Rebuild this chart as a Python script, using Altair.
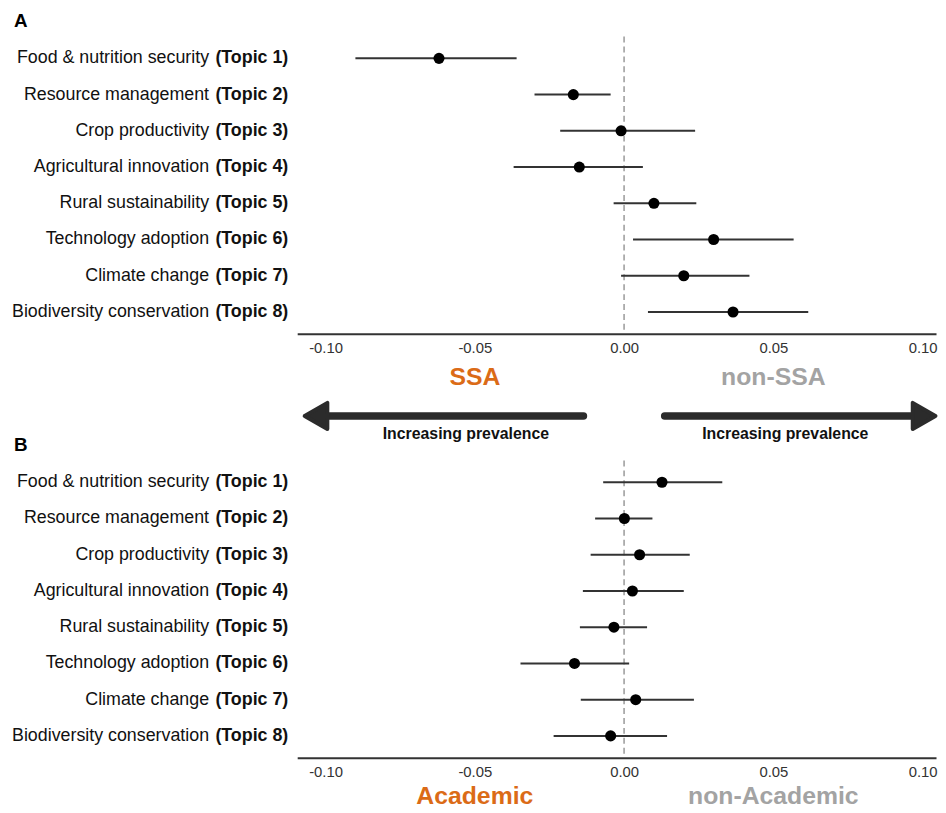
import altair as alt
import pandas as pd

# ---------------- data ----------------
topics = [
    "Food & nutrition security",
    "Resource management",
    "Crop productivity",
    "Agricultural innovation",
    "Rural sustainability",
    "Technology adoption",
    "Climate change",
    "Biodiversity conservation",
]
topic_tags = [f"(Topic {i})" for i in range(1, 9)]

# Panel A: SSA vs non-SSA
a_est = [-0.062, -0.017, -0.001, -0.015, 0.010, 0.030, 0.020, 0.0365]
a_lo = [-0.090, -0.030, -0.0214, -0.037, -0.0035, 0.003, -0.001, 0.008]
a_hi = [-0.036, -0.0045, 0.0238, 0.0063, 0.0242, 0.0568, 0.042, 0.0617]

# Panel B: Academic vs non-Academic
b_est = [0.0127, 0.0001, 0.0052, 0.0028, -0.0034, -0.0166, 0.0039, -0.0045]
b_lo = [-0.0070, -0.0097, -0.0112, -0.0138, -0.0148, -0.0347, -0.0145, -0.0236]
b_hi = [0.0329, 0.0095, 0.0220, 0.0200, 0.0077, 0.0017, 0.0234, 0.0144]

x_ticks = [-0.10, -0.05, 0.00, 0.05, 0.10]

FONT = "Liberation Sans"
ORANGE = "#DB6B17"
GREY = "#A3A3A3"
DARK = "#2b2b2b"
X_DOMAIN = [-0.1095, 0.1045]
W, H = 645, 300

one = pd.DataFrame({"_": [0]})


def text_note(label, x, y, color, size, **kw):
    return alt.Chart(one).mark_text(
        text=label, font=FONT, fontSize=size, fontWeight="bold", color=color,
        baseline="middle", **kw
    ).encode(x=x, y=y)


def panel(est, lo, hi, tag, left_lab, right_lab, lab_y, arrows):
    df = pd.DataFrame({"topic": topics, "tag": topic_tags,
                       "est": est, "lo": lo, "hi": hi})
    base = alt.Chart(df)
    yenc = alt.Y("topic:N", sort=topics,
                 scale=alt.Scale(type="point", padding=0.6), axis=None)

    ci = base.mark_rule(color="#333333", strokeWidth=2).encode(
        x=alt.X("lo:Q", scale=alt.Scale(domain=X_DOMAIN, nice=False, zero=False),
                axis=alt.Axis(
                    values=x_ticks, title=None, grid=False, ticks=False,
                    domainColor="#333333", domainWidth=2,
                    labelFont=FONT, labelFontSize=15, labelColor="#333333",
                    labelPadding=7, labelFlush=False,
                    labelExpr="datum.value < 0 ? '-' + format(-datum.value, '.2f') : format(datum.value, '.2f')",
                )),
        x2="hi:Q",
        y=yenc,
    )
    zero = alt.Chart(one).mark_rule(
        color="#999999", strokeDash=[6, 4], strokeWidth=1.5
    ).encode(x=alt.datum(0))
    dots = base.mark_circle(size=125, color="black", opacity=1).encode(
        x="est:Q", y=yenc)

    lab_reg = base.mark_text(align="right", baseline="middle", font=FONT,
                             fontSize=18, color="#111111").encode(
        x=alt.value(-89), y=yenc, text="topic:N")
    lab_bold = base.mark_text(align="right", baseline="middle", font=FONT,
                              fontSize=18, fontWeight="bold", color="#111111").encode(
        x=alt.value(-9), y=yenc, text="tag:N")

    tag_txt = text_note(tag, alt.value(-286), alt.value(-16), "#000000", 19, align="left")
    left_txt = text_note(left_lab, alt.datum(-0.05), alt.value(lab_y), ORANGE, 25, align="center")
    right_txt = text_note(right_lab, alt.datum(0.05), alt.value(lab_y), GREY, 25, align="center")

    layers = [zero, ci, dots, lab_reg, lab_bold, tag_txt, left_txt, right_txt]

    if arrows:
        ay = 383
        shaft_l = alt.Chart(one).mark_rule(color=DARK, strokeWidth=7.5, strokeCap="round").encode(
            x=alt.datum(-0.1020), x2=alt.datum(-0.0136), y=alt.value(ay))
        shaft_r = alt.Chart(one).mark_rule(color=DARK, strokeWidth=7.5, strokeCap="round").encode(
            x=alt.datum(0.0136), x2=alt.datum(0.0995), y=alt.value(ay))
        head_l = alt.Chart(one).mark_point(
            shape="triangle-left", filled=True, size=700, color=DARK, opacity=1,
            stroke=DARK, strokeWidth=4, strokeJoin="round").encode(
            x=alt.datum(-0.1032), y=alt.value(ay))
        head_r = alt.Chart(one).mark_point(
            shape="triangle-right", filled=True, size=700, color=DARK, opacity=1,
            stroke=DARK, strokeWidth=4, strokeJoin="round").encode(
            x=alt.datum(0.1005), y=alt.value(ay))
        inc_l = text_note("Increasing prevalence", alt.datum(-0.053), alt.value(401),
                          "#111111", 16, align="center")
        inc_r = text_note("Increasing prevalence", alt.datum(0.054), alt.value(401),
                          "#111111", 16, align="center")
        layers += [shaft_l, shaft_r, head_l, head_r, inc_l, inc_r]

    return alt.layer(*layers).properties(width=W, height=H)


panel_a = panel(a_est, a_lo, a_hi, "A", "SSA", "non-SSA", 344, True)
panel_b = panel(b_est, b_lo, b_hi, "B", "Academic", "non-Academic", 339, False)

chart = alt.vconcat(panel_a, panel_b, spacing=128, bounds="flush").properties(
    padding={"left": 3, "top": 0, "right": 0, "bottom": 0}
).configure_view(strokeWidth=0)

chart.save("out.html", embed_options={"renderer": "svg", "actions": False})
